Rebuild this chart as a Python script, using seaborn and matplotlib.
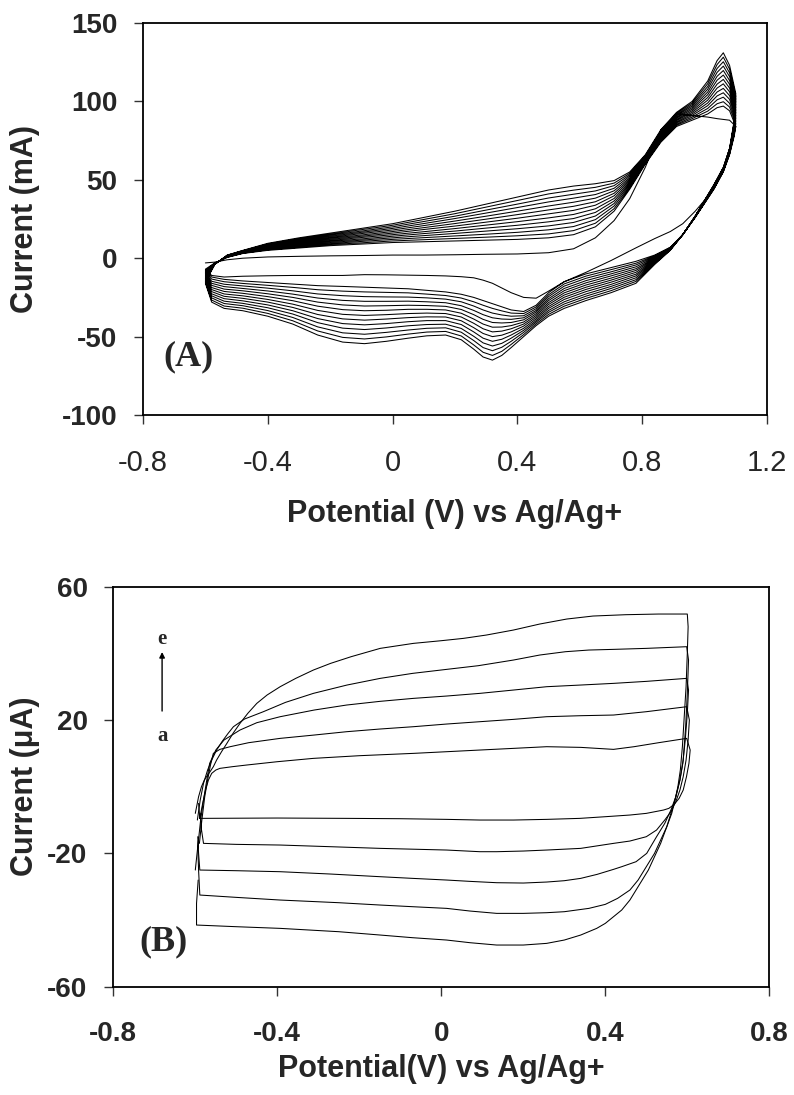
import matplotlib
matplotlib.use("Agg")
import matplotlib.pyplot as plt
import pandas as pd
import seaborn as sns

# ---------------- Panel A data (mA vs V) ----------------
# 14 successive cycles; each table row = one potential, values for cycle 1..14
A_START_E = -0.60
A_START_I = -3.0

E_AN = [-0.57, -0.53, -0.48, -0.40, -0.30, -0.20, -0.10, 0.00, 0.10, 0.20, 0.30,
        0.40, 0.50, 0.58, 0.65, 0.71, 0.76, 0.81, 0.86, 0.91, 0.96, 1.01, 1.04,
        1.06, 1.08, 1.10]
I_AN_TABLE = [
    [-2.5, -3, -3.1, -3.2, -3.3, -3.3, -3.4, -3.5, -3.6, -3.7, -3.8, -3.8, -3.9, -4],
    [-1, 0.5, 0.6, 0.8, 0.9, 1.0, 1.1, 1.3, 1.4, 1.5, 1.6, 1.8, 1.9, 2],
    [0, 3, 3.2, 3.3, 3.5, 3.7, 3.8, 4, 4.2, 4.3, 4.5, 4.7, 4.8, 5],
    [0.8, 5, 5.4, 5.8, 6.1, 6.5, 6.9, 7.3, 7.6, 8, 8.4, 8.8, 9.1, 9.5],
    [1.2, 6.5, 7.0, 7.6, 8.1, 8.7, 9.2, 9.8, 10.3, 10.8, 11.4, 11.9, 12.5, 13],
    [1.5, 8, 8.7, 9.3, 10, 10.7, 11.3, 12, 12.7, 13.3, 14, 14.7, 15.3, 16],
    [1.7, 9, 9.8, 10.7, 11.5, 12.3, 13.2, 14, 14.8, 15.7, 16.5, 17.3, 18.2, 19],
    [2, 10, 11, 12, 13, 14, 15, 16, 17, 18, 19, 20, 21, 22],
    [2, 10.5, 11.8, 13.1, 14.4, 15.7, 16.9, 18.3, 19.5, 20.8, 22.1, 23.4, 24.7, 26],
    [2.2, 11, 12.6, 14.2, 15.8, 17.3, 18.9, 20.5, 22.1, 23.7, 25.3, 26.8, 28.4, 30],
    [2.5, 11.5, 13.4, 15.3, 17.3, 19.2, 21.1, 23, 24.9, 26.8, 28.8, 30.7, 32.6, 34.5],
    [2.7, 12, 14.3, 16.5, 18.8, 21, 23.3, 25.5, 27.8, 30, 32.3, 34.5, 36.8, 39],
    [3.5, 13, 15.5, 18.1, 20.6, 23.2, 25.7, 28.3, 30.8, 33.3, 35.9, 38.4, 41, 43.5],
    [6, 15, 17.6, 20.2, 22.8, 25.3, 27.9, 30.5, 33.1, 35.7, 38.3, 40.8, 43.4, 46],
    [13, 20, 22.3, 24.6, 26.9, 29.2, 31.5, 33.8, 36, 38.3, 40.6, 42.9, 45.2, 47.5],
    [24, 30, 31.6, 33.3, 34.9, 36.5, 38.1, 39.8, 41.4, 43, 44.6, 46.3, 47.9, 49.5],
    [38, 44, 44.9, 45.8, 46.8, 47.7, 48.6, 49.5, 50.4, 51.3, 52.3, 53.2, 54.1, 55],
    [58, 60, 60.5, 61, 61.5, 62, 62.5, 63, 63.5, 64, 64.5, 65, 65.5, 66],
    [82, 74, 74.7, 75.3, 76, 76.7, 77.3, 78, 78.7, 79.3, 80, 80.7, 81.3, 82],
    [92, 84, 84.8, 85.5, 86.3, 87, 87.8, 88.5, 89.3, 90, 90.8, 91.5, 92.3, 93],
    [91, 88, 89, 90, 91, 92, 93, 94, 95, 96, 97, 98, 99, 100],
    [90, 92, 93.8, 95.5, 97.3, 99, 100.8, 102.5, 104.3, 106, 107.8, 109.5, 111.3, 113],
    [89, 96, 98.5, 101, 103.5, 106, 108.5, 111, 113.5, 116, 118.5, 121, 123.5, 126],
    [88.5, 97, 99.8, 102.7, 105.5, 108.3, 111.2, 114, 116.8, 119.7, 122.5, 125.3, 128.2, 131],
    [88, 94, 96.4, 98.8, 101.3, 103.7, 106.1, 108.5, 110.9, 113.3, 115.8, 118.2, 120.6, 123],
    [84, 84, 85.8, 87.5, 89.3, 91, 92.8, 94.5, 96.3, 98, 99.8, 101.5, 103.3, 105],
]

E_CA = [1.095, 1.08, 1.06, 1.03, 1.00, 0.97, 0.93, 0.89, 0.84, 0.78, 0.70, 0.62,
        0.55, 0.50, 0.46, 0.42, 0.38, 0.35, 0.32, 0.29, 0.26, 0.22, 0.17, 0.11,
        0.05, -0.02, -0.09, -0.16, -0.24, -0.32, -0.40, -0.48, -0.54, -0.58, -0.60]
I_CA_TABLE = [
    [80, 78, 78.8, 79.7, 80.5, 81.3, 82.2, 83, 83.8, 84.7, 85.5, 86.3, 87.2, 88],
    [70, 66, 66.3, 66.7, 67, 67.3, 67.7, 68, 68.3, 68.7, 69, 69.3, 69.7, 70],
    [57, 55, 55.3, 55.5, 55.8, 56, 56.3, 56.5, 56.8, 57, 57.3, 57.5, 57.8, 58],
    [45, 44, 44.3, 44.5, 44.8, 45, 45.3, 45.5, 45.8, 46, 46.3, 46.5, 46.8, 47],
    [37, 35, 35.2, 35.3, 35.5, 35.7, 35.8, 36, 36.2, 36.3, 36.5, 36.7, 36.8, 37],
    [30, 26, 26.1, 26.2, 26.3, 26.3, 26.4, 26.5, 26.6, 26.7, 26.8, 26.8, 26.9, 27],
    [22, 15, 15, 15, 15, 15, 15, 15, 15, 15, 15, 15, 15, 15],
    [17, 7, 6.8, 6.7, 6.5, 6.3, 6.2, 6, 5.8, 5.7, 5.5, 5.3, 5.2, 5],
    [12.5, 2, 1.5, 1, 0.5, 0, -0.5, -1, -1.5, -2, -2.5, -3, -3.5, -4],
    [6.6, -2, -3.2, -4.3, -5.5, -6.7, -7.8, -9, -10.2, -11.3, -12.5, -13.7, -14.8, -16],
    [-1.5, -6, -7.3, -8.7, -10, -11.3, -12.7, -14, -15.3, -16.7, -18, -19.3, -20.7, -22],
    [-9, -10, -11.4, -12.8, -14.3, -15.7, -17.1, -18.5, -19.9, -21.3, -22.8, -24.2, -25.6, -27],
    [-15, -15, -16.4, -17.8, -19.3, -20.7, -22.1, -23.5, -24.9, -26.3, -27.8, -29.2, -30.6, -32],
    [-21, -22, -23.3, -24.5, -25.8, -27, -28.3, -29.5, -30.8, -32, -33.3, -34.5, -35.8, -37],
    [-25.5, -30, -31.1, -32.2, -33.3, -34.3, -35.4, -36.5, -37.6, -38.7, -39.8, -40.8, -41.9, -43],
    [-25, -34, -35.3, -36.7, -38, -39.3, -40.7, -42, -43.3, -44.7, -46, -47.3, -48.7, -50],
    [-22, -33, -35, -37, -39, -41, -43, -45, -47, -49, -51, -53, -55, -57],
    [-19, -31, -33.6, -36.2, -38.8, -41.3, -43.9, -46.5, -49.1, -51.7, -54.3, -56.8, -59.4, -62],
    [-16, -29, -32, -35, -38, -41, -44, -47, -50, -53, -56, -59, -62, -65],
    [-14, -27, -30, -33, -36, -39, -42, -45, -48, -51, -54, -57, -60, -63],
    [-12.5, -25, -27.8, -30.5, -33.3, -36, -38.8, -41.5, -44.3, -47, -49.8, -52.5, -55.3, -58],
    [-11.8, -23, -25.4, -27.8, -30.3, -32.7, -35.1, -37.5, -39.9, -42.3, -44.8, -47.2, -49.6, -52],
    [-11.3, -21.5, -23.8, -26.1, -28.4, -30.7, -33, -35.3, -37.5, -39.8, -42.1, -44.4, -46.7, -49],
    [-11, -20.5, -22.9, -25.3, -27.8, -30.2, -32.6, -35, -37.4, -39.8, -42.3, -44.7, -47.1, -49.5],
    [-10.8, -19.5, -22.1, -24.8, -27.4, -30, -32.6, -35.3, -37.9, -40.5, -43.1, -45.8, -48.4, -51],
    [-10.6, -19, -21.8, -24.7, -27.5, -30.3, -33.2, -36, -38.8, -41.7, -44.5, -47.3, -50.2, -53],
    [-10.5, -18.5, -21.5, -24.5, -27.5, -30.5, -33.5, -36.5, -39.5, -42.5, -45.5, -48.5, -51.5, -54.5],
    [-11, -18, -21, -23.9, -26.9, -29.8, -32.8, -35.8, -38.7, -41.7, -44.6, -47.6, -50.5, -53.5],
    [-11, -17.5, -20.1, -22.8, -25.4, -28, -30.6, -33.3, -35.9, -38.5, -41.1, -43.8, -46.4, -49],
    [-11, -16.5, -18.6, -20.8, -22.9, -25, -27.1, -29.3, -31.4, -33.5, -35.6, -37.8, -39.9, -42],
    [-11.2, -15.5, -17.3, -19.1, -20.9, -22.7, -24.5, -26.3, -28, -29.8, -31.6, -33.4, -35.2, -37],
    [-11.5, -14.5, -16.1, -17.7, -19.3, -20.8, -22.4, -24, -25.6, -27.2, -28.8, -30.3, -31.9, -33.5],
    [-12, -13.5, -15, -16.6, -18.1, -19.7, -21.2, -22.8, -24.3, -25.8, -27.4, -28.9, -30.5, -32],
    [-11, -12, -13.3, -14.7, -16, -17.3, -18.7, -20, -21.3, -22.7, -24, -25.3, -26.7, -28],
    [-7, -8, -8.7, -9.3, -10, -10.7, -11.3, -12, -12.7, -13.3, -14, -14.7, -15.3, -16],
]

A_XTICKS = [-0.8, -0.4, 0, 0.4, 0.8, 1.2]
A_XTICKLABELS = ["-0.8", "-0.4", "0", "0.4", "0.8", "1.2"]
A_YTICKS = [150, 100, 50, 0, -50, -100]
A_YTICKLABELS = ["150", "100", "50", "0", "-50", "-100"]

# ---------------- Panel B data (uA vs V), curves a..e ----------------
B_E = {
    "a": [-0.589, -0.582, -0.575, -0.568, -0.560, -0.550, -0.540, -0.510, -0.475, -0.400,
          -0.312, -0.200, -0.068, 0.013, 0.094, 0.176, 0.257, 0.340, 0.420, 0.470, 0.530,
          0.5985, 0.607, 0.604, 0.598, 0.590, 0.580, 0.568, 0.555, 0.542, 0.500, 0.460,
          0.400, 0.338, 0.257, 0.176, 0.094, 0.013, -0.100, -0.231, -0.400, -0.589, -0.592],
    "b": [-0.590, -0.584, -0.577, -0.570, -0.563, -0.556, -0.540, -0.515, -0.470, -0.393,
          -0.310, -0.231, -0.150, -0.068, 0.013, 0.094, 0.176, 0.257, 0.340, 0.420, 0.500,
          0.5985, 0.605, 0.602, 0.597, 0.590, 0.582, 0.572, 0.560, 0.545, 0.525, 0.500,
          0.460, 0.420, 0.340, 0.257, 0.200, 0.135, 0.094, 0.013, -0.149, -0.270, -0.393,
          -0.500, -0.580, -0.586, -0.588],
    "c": [-0.600, -0.594, -0.587, -0.580, -0.572, -0.565, -0.550, -0.530, -0.491, -0.450,
          -0.393, -0.310, -0.231, -0.150, -0.068, 0.013, 0.094, 0.176, 0.257, 0.340, 0.420,
          0.500, 0.5985, 0.603, 0.600, 0.595, 0.589, 0.582, 0.572, 0.560, 0.545, 0.525,
          0.501, 0.475, 0.440, 0.420, 0.380, 0.340, 0.300, 0.257, 0.200, 0.135, 0.070,
          0.013, -0.070, -0.149, -0.270, -0.393, -0.500, -0.589, -0.592, -0.594],
    "d": [-0.595, -0.588, -0.580, -0.570, -0.560, -0.548, -0.535, -0.520, -0.507, -0.480,
          -0.434, -0.380, -0.312, -0.230, -0.149, -0.070, 0.013, 0.090, 0.176, 0.240, 0.303,
          0.360, 0.420, 0.500, 0.5985, 0.603, 0.600, 0.596, 0.590, 0.582, 0.572, 0.562,
          0.550, 0.535, 0.520, 0.500, 0.480, 0.460, 0.430, 0.400, 0.360, 0.300, 0.257,
          0.200, 0.135, 0.070, 0.013, -0.070, -0.149, -0.250, -0.393, -0.500, -0.589,
          -0.592, -0.594],
    "e": [-0.600, -0.592, -0.585, -0.578, -0.570, -0.564, -0.556, -0.548, -0.536, -0.523,
          -0.508, -0.491, -0.472, -0.450, -0.425, -0.393, -0.355, -0.312, -0.270, -0.220,
          -0.149, -0.068, 0.000, 0.054, 0.110, 0.176, 0.240, 0.306, 0.370, 0.450, 0.530,
          0.600, 0.602, 0.600, 0.597, 0.592, 0.588, 0.583, 0.577, 0.570, 0.560, 0.550,
          0.535, 0.520, 0.505, 0.490, 0.475, 0.460, 0.440, 0.420, 0.400, 0.379, 0.340,
          0.300, 0.257, 0.200, 0.135, 0.070, 0.013, -0.070, -0.149, -0.250, -0.393,
          -0.500, -0.597, -0.597, -0.593],
}
B_I = {
    "a": [-9.5, -5, -1, 2, 4, 5, 5.5, 6, 6.5, 7.5, 8.5, 9.3, 10, 10.5, 11, 11.5, 12, 11.8,
          11.2, 12, 13.2, 14.5, 11, 7, 3, -1, -3.5, -5.3, -6.5, -7, -8, -8.5, -9, -9.5,
          -9.8, -10, -10, -9.8, -9.6, -9.5, -9.4, -9.5, -5],
    "b": [-17, -10, -3, 2, 6.5, 10, 11.2, 12, 13.2, 14.5, 15.5, 16.5, 17.3, 18, 18.8, 19.5,
          20.2, 21, 21.3, 21.5, 22.5, 24, 20, 14, 8, 3, -1, -4.5, -7.5, -10, -13, -15,
          -16.3, -17, -18.5, -19, -19.3, -19.5, -19.5, -19, -18.5, -18, -17.5, -17.3, -17,
          -12, -8],
    "c": [-25, -18, -10, -4, 2, 7, 11, 14, 17, 19.2, 21, 23, 24.5, 25.6, 26.5, 27.2, 28, 29,
          30, 30.5, 31, 31.6, 32.5, 29, 22, 14, 7, 2, -3, -7, -11, -15, -20, -22.5, -24,
          -24.8, -26.3, -27.5, -28.2, -28.6, -28.9, -28.8, -28.4, -28, -27.5, -27, -26.2,
          -25.5, -25.2, -25, -20, -15],
    "d": [-10, -4, 1, 5, 8, 11, 13.5, 16, 18, 20.3, 22.5, 25.3, 28, 30.5, 32.5, 34, 35.2,
          36.3, 38, 39.5, 40.5, 41, 41.2, 41.5, 42, 38, 28, 18, 8, 2, -3, -8, -12, -16, -20,
          -24, -28, -31, -33.5, -35.3, -36.5, -37.5, -37.8, -38, -38, -37.3, -36.5, -36,
          -35.5, -34.8, -34, -33.2, -32.5, -25, -18],
    "e": [-8, -3, 0, 2, 3.5, 4.5, 6, 8, 10.5, 13, 16, 19, 22, 25, 27.5, 30, 32.5, 35, 37,
          39, 41.5, 43, 43.8, 44.5, 45.5, 47, 48.8, 50.3, 51.2, 51.6, 51.8, 51.8, 48, 40,
          30, 20, 12, 5, 0, -4, -8, -12, -17, -21, -25, -28, -31, -34, -37, -39, -41,
          -42.5, -44.5, -46, -47, -47.5, -47.5, -46.8, -46, -45.3, -44.5, -43.5, -42.5,
          -42, -41.5, -35, -28],
}
B_XTICKS = [-0.8, -0.4, 0, 0.4, 0.8]
B_XTICKLABELS = ["-0.8", "-0.4", "0", "0.4", "0.8"]
B_YTICKS = [60, 20, -20, -60]
B_YTICKLABELS = ["60", "20", "-20", "-60"]

# ---------------- figure ----------------
sns.set_theme(style="white")
plt.rcParams['font.family'] = ['Liberation Sans', 'DejaVu Sans']

fig = plt.figure(figsize=(7.94, 10.95), dpi=100)
axA = fig.add_axes([0.1801, 0.621, 0.7859, 0.3580])
axB = fig.add_axes([0.1427, 0.0989, 0.8262, 0.3653])

# Panel A: one continuous scan through all cycles
n_cycles = len(I_AN_TABLE[0])
xs, ys = [A_START_E], [A_START_I]
for k in range(n_cycles):
    xs += E_AN + E_CA
    ys += [row[k] for row in I_AN_TABLE] + [row[k] for row in I_CA_TABLE]
dfA = pd.DataFrame({"E": xs, "I": ys})
sns.lineplot(data=dfA, x="E", y="I", sort=False, estimator=None,
             color="black", linewidth=0.75, ax=axA)

# Panel B
for key in ["a", "b", "c", "d", "e"]:
    dfB = pd.DataFrame({"E": B_E[key], "I": B_I[key]})
    sns.lineplot(data=dfB, x="E", y="I", sort=False, estimator=None,
                 color="black", linewidth=0.75, ax=axB)

tickfont = dict(family="Liberation Sans", weight="bold", size=20)
labfont = dict(family="Liberation Sans", weight="bold", size=22)

for ax in (axA, axB):
    for side in ("left", "right", "top", "bottom"):
        ax.spines[side].set_visible(True)
        ax.spines[side].set_color("black")
        ax.spines[side].set_linewidth(1.3)
    ax.tick_params(axis="both", which="major", direction="out", length=6.5,
                   width=1.0, color="#333333", left=True, bottom=True,
                   right=False, top=False)
    ax.grid(False)

# Axis A
axA.set_xlim(-0.8, 1.2)
axA.set_ylim(-100, 150)
axA.set_xticks(A_XTICKS)
axA.set_xticklabels(A_XTICKLABELS, family="Liberation Sans", size=21)
axA.set_yticks(A_YTICKS)
axA.set_yticklabels(A_YTICKLABELS, **tickfont)
axA.tick_params(axis="x", pad=18)
axA.tick_params(axis="y", pad=12)
axA.set_xlabel("Potential (V) vs Ag/Ag+", **labfont)
axA.set_ylabel("Current (mA)", **labfont)
axA.yaxis.set_label_coords(-0.165, 0.5)
axA.xaxis.set_label_coords(0.5, -0.2145)
axA.text(-0.655, -62.8, "(A)", family="Liberation Serif", weight="bold",
         size=26, ha="center", va="center")

# Axis B
axB.set_xlim(-0.8, 0.8)
axB.set_ylim(-60, 60)
axB.set_xticks(B_XTICKS)
axB.set_xticklabels(B_XTICKLABELS, **tickfont)
axB.set_yticks(B_YTICKS)
axB.set_yticklabels(B_YTICKLABELS, **tickfont)
axB.tick_params(axis="x", pad=18)
axB.tick_params(axis="y", pad=12)
axB.set_xlabel("Potential(V) vs Ag/Ag+", **labfont)
axB.set_ylabel("Current (μA)", **labfont)
axB.yaxis.set_label_coords(-0.112, 0.5)
axB.xaxis.set_label_coords(0.5, -0.168)
axB.text(-0.677, -46.6, "(B)", family="Liberation Serif", weight="bold",
         size=26, ha="center", va="center")
axB.text(-0.681, 44.4, "e", family="Liberation Serif", weight="bold",
         size=15, ha="center", va="center")
axB.text(-0.681, 15.3, "a", family="Liberation Serif", weight="bold",
         size=15, ha="center", va="center")
axB.annotate("", xy=(-0.681, 40.4), xytext=(-0.681, 22.7),
             arrowprops=dict(arrowstyle="-|>", color="black", lw=1.0,
                             mutation_scale=8, shrinkA=0, shrinkB=0))

fig.savefig("out.png", dpi=100, facecolor="white")
